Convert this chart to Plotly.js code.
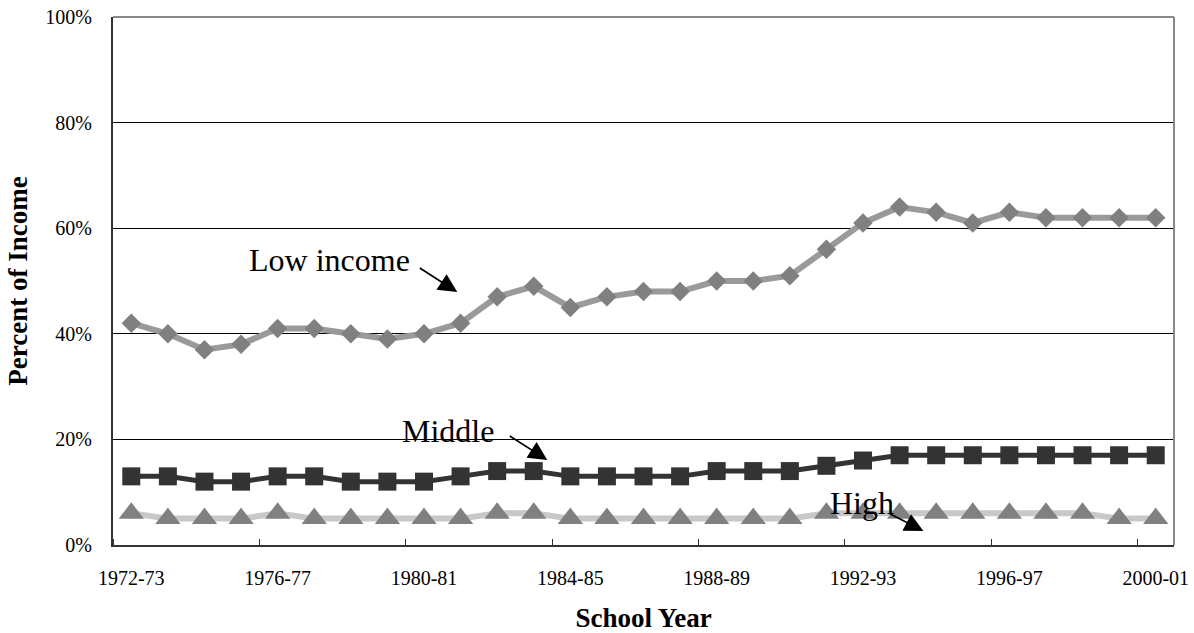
<!DOCTYPE html>
<html>
<head>
<meta charset="utf-8">
<script src="https://cdn.plot.ly/plotly-3.0.1.min.js"></script>
<style>html,body{margin:0;padding:0;background:#fff;}#chart{width:1194px;height:633px;}</style>
</head>
<body>
<div id="chart"></div>
<script>
const schoolYears = ["1972-73","1973-74","1974-75","1975-76","1976-77","1977-78","1978-79","1979-80","1980-81","1981-82","1982-83","1983-84","1984-85","1985-86","1986-87","1987-88","1988-89","1989-90","1990-91","1991-92","1992-93","1993-94","1994-95","1995-96","1996-97","1997-98","1998-99","1999-00","2000-01"];
const lowIncome = [42,40,37,38,41,41,40,39,40,42,47,49,45,47,48,48,50,50,51,56,61,64,63,61,63,62,62,62,62];
const middleIncome = [13,13,12,12,13,13,12,12,12,13,14,14,13,13,13,13,14,14,14,15,16,17,17,17,17,17,17,17,17];
const highIncome = [6,5,5,5,6,5,5,5,5,5,6,6,5,5,5,5,5,5,5,6,6,6,6,6,6,6,6,5,5];
const tickLabels = ["1972-73","1976-77","1980-81","1984-85","1988-89","1992-93","1996-97","2000-01"];

const xIdx = schoolYears.map((_, i) => i);
const labelIdx = tickLabels.map(l => schoolYears.indexOf(l));
const serif = "Liberation Serif, Times New Roman, serif";

const traces = [
  {x: xIdx, y: highIncome, name: "High", mode: "lines+markers", text: schoolYears,
   line: {color: "#c8c8c8", width: 6}, marker: {symbol: "triangle-up", size: 22, color: "#808080"}},
  {x: xIdx, y: middleIncome, name: "Middle", mode: "lines+markers", text: schoolYears,
   line: {color: "#333333", width: 5}, marker: {symbol: "square", size: 18, color: "#333333"}},
  {x: xIdx, y: lowIncome, name: "Low income", mode: "lines+markers", text: schoolYears,
   line: {color: "#9a9a9a", width: 6}, marker: {symbol: "diamond", size: 15, color: "#808080"}}
];

const annFont = {family: serif, size: 32, color: "#000"};
const arrowStyle = {xref: "x", yref: "y", text: "", showarrow: true, arrowhead: 2, arrowsize: 2.2, arrowwidth: 1.7, arrowcolor: "#000"};
const layout = {
  width: 1194, height: 633,
  margin: {l: 113, r: 20, t: 17, b: 88},
  paper_bgcolor: "#fff", plot_bgcolor: "#fff",
  showlegend: false,
  font: {family: serif, size: 20, color: "#000"},
  xaxis: {
    range: [-0.5, 28.5], tickmode: "array", tickvals: labelIdx, ticktext: tickLabels,
    ticks: "", showgrid: false, zeroline: false,
    showline: true, linecolor: "#333", linewidth: 2,
    ticklabelstandoff: 14,
    tickfont: {family: serif, size: 20, color: "#000"},
    minor: {tick0: 3.5, dtick: 4, ticks: "inside", ticklen: 6, tickcolor: "#333", tickwidth: 1, showgrid: false},
    title: {text: "<b>School Year</b>", font: {family: serif, size: 27, color: "#000"}, standoff: 30}
  },
  yaxis: {
    range: [0, 100], dtick: 20, ticksuffix: "%", ticks: "",
    showgrid: true, gridcolor: "#000", gridwidth: 1, zeroline: false,
    showline: true, linecolor: "#333", linewidth: 2,
    ticklabelstandoff: 15,
    tickfont: {family: serif, size: 20, color: "#000"},
    title: {text: "<b>Percent of Income</b>", font: {family: serif, size: 27, color: "#000"}, standoff: 10}
  },
  shapes: [
    {type: "line", xref: "paper", yref: "paper", x0: 0, x1: 1, y0: 1, y1: 1, line: {color: "#888", width: 2}},
    {type: "line", xref: "paper", yref: "paper", x0: 1, x1: 1, y0: 0, y1: 1, line: {color: "#888", width: 2}}
  ],
  annotations: [
    {x: 5.41, y: 53.98, xref: "x", yref: "y", text: "Low income", showarrow: false, font: annFont},
    {x: 8.66, y: 21.6, xref: "x", yref: "y", text: "Middle", showarrow: false, font: annFont},
    {x: 19.98, y: 7.95, xref: "x", yref: "y", text: "High", showarrow: false, font: annFont},
    Object.assign({x: 8.91, y: 47.9, ax: -39, ay: -25}, arrowStyle),
    Object.assign({x: 11.37, y: 16.1, ax: -39, ay: -25}, arrowStyle),
    Object.assign({x: 21.65, y: 2.65, ax: -35, ay: -18}, arrowStyle)
  ]
};

Plotly.newPlot("chart", traces, layout, {staticPlot: true, displayModeBar: false});
</script>
</body>
</html>
